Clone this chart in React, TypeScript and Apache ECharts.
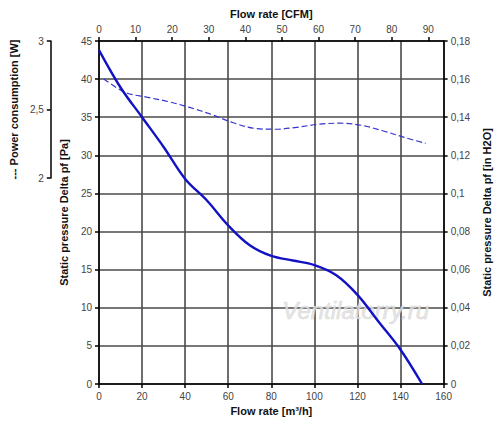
import React, { useEffect, useRef } from "react";
import * as echarts from "echarts";

const flowRates = [0, 10, 20, 30, 40, 50, 60, 70, 80, 90, 100, 110, 120, 130, 140, 150];
const pressurePa = [43.8, 38.9, 35.0, 31.1, 26.9, 24.1, 20.8, 18.2, 16.8, 16.2, 15.6, 14.3, 11.7, 8.1, 4.5, 0];
const powerW = [2.723, 2.625, 2.59, 2.558, 2.515, 2.465, 2.405, 2.363, 2.356, 2.37, 2.392, 2.4, 2.385, 2.345, 2.297, 2.253];

const CFM_PER_M3H = 1 / 1.699;
const FLOW_MAX = 160;
const PA_MAX = 45;
const INH2O_MAX = 0.18;

const FONT = "'Liberation Sans', Arial, sans-serif";
const lblColor = "#444";
const axisLineStyle = { color: "#000", width: 1.5 };
const gridLineStyle = { color: "#4a4a4a", width: 1.6 };
const nameStyle = { fontFamily: FONT, fontWeight: "bold" as const, fontSize: 11, color: "#111" };
const labelStyle = { fontFamily: FONT, fontSize: 10, color: lblColor, margin: 7 };

const comma = (v: number) => (v === 0 ? "0" : String(+v.toFixed(2)).replace(".", ","));

export default function App() {
  const ref = useRef<HTMLDivElement>(null);
  useEffect(() => {
    document.body.style.margin = "0";
    const chart = echarts.init(ref.current!, null, { renderer: "svg" });
    const solid = flowRates.map((f, i) => [f, pressurePa[i]]);
    const dashed = flowRates.map((f, i) => [f, powerW[i]]);
    chart.setOption({
      animation: false,
      backgroundColor: "#fff",
      grid: [
        { left: 99, top: 41, width: 348, height: 343 },
        { left: 99, top: 41, width: 348, height: 137 },
      ],
      xAxis: [
        {
          gridIndex: 0,
          type: "value",
          min: 0,
          max: FLOW_MAX,
          interval: 20,
          position: "bottom",
          name: "Flow rate [m³/h]",
          nameLocation: "middle",
          nameGap: 21,
          nameTextStyle: nameStyle,
          axisLine: { show: true, onZero: false, lineStyle: axisLineStyle },
          axisTick: { show: true, length: 4, lineStyle: axisLineStyle },
          axisLabel: labelStyle,
          splitLine: { show: true, lineStyle: gridLineStyle },
        },
        {
          gridIndex: 0,
          type: "value",
          min: 0,
          max: FLOW_MAX * CFM_PER_M3H,
          interval: 10,
          position: "top",
          name: "Flow rate [CFM]",
          nameLocation: "middle",
          nameGap: 22,
          nameTextStyle: nameStyle,
          axisLine: { show: true, onZero: false, lineStyle: axisLineStyle },
          axisTick: { show: true, length: 4, lineStyle: axisLineStyle },
          axisLabel: {
            ...labelStyle,
            showMaxLabel: false,
            formatter: (v: number) => (Math.abs(v % 10) < 1e-6 ? String(v) : ""),
          },
          splitLine: { show: false },
        },
        {
          gridIndex: 1,
          type: "value",
          min: 0,
          max: FLOW_MAX,
          show: false,
        },
      ],
      yAxis: [
        {
          gridIndex: 0,
          type: "value",
          min: 0,
          max: PA_MAX,
          interval: 5,
          position: "left",
          name: "Static pressure Delta pf [Pa]",
          nameLocation: "middle",
          nameGap: 21,
          nameTextStyle: nameStyle,
          axisLine: { show: true, onZero: false, lineStyle: axisLineStyle },
          axisTick: { show: true, length: 4, lineStyle: axisLineStyle },
          axisLabel: labelStyle,
          splitLine: { show: true, lineStyle: gridLineStyle },
        },
        {
          gridIndex: 0,
          type: "value",
          min: 0,
          max: INH2O_MAX,
          interval: 0.02,
          position: "right",
          name: "Static pressure Delta pf [in H2O]",
          nameLocation: "middle",
          nameGap: 36,
          nameTextStyle: nameStyle,
          axisLine: { show: true, onZero: false, lineStyle: axisLineStyle },
          axisTick: { show: true, length: 4, lineStyle: axisLineStyle },
          axisLabel: { ...labelStyle, formatter: comma },
          splitLine: { show: false },
        },
        {
          gridIndex: 1,
          type: "value",
          min: 2,
          max: 3,
          interval: 0.5,
          position: "left",
          offset: 53,
          name: "--- Power consumption [W]",
          nameLocation: "middle",
          nameGap: 25,
          nameTextStyle: nameStyle,
          axisLine: { show: true, onZero: false, lineStyle: axisLineStyle },
          axisTick: { show: true, length: 4, lineStyle: axisLineStyle },
          axisLabel: { ...labelStyle, formatter: comma },
          splitLine: { show: false },
        },
      ],
      graphic: [
        {
          type: "text",
          left: 282,
          top: 298,
          z: 1,
          style: {
            text: "Ventilatorry.ru",
            font: "italic 24px 'Liberation Sans', Arial, sans-serif",
            fill: "rgba(225,225,225,0.85)",
            stroke: "rgba(190,190,190,0.7)",
            lineWidth: 0.6,
          },
        },
      ],
      series: [
        {
          type: "line",
          xAxisIndex: 0,
          yAxisIndex: 0,
          data: solid,
          smooth: 0.35,
          symbol: "none",
          lineStyle: { color: "#1212c4", width: 2.4 },
          z: 5,
        },
        {
          type: "line",
          xAxisIndex: 2,
          yAxisIndex: 2,
          data: dashed,
          smooth: 0.35,
          symbol: "none",
          lineStyle: { color: "#3434d0", width: 1.2, type: [6, 3] },
          z: 4,
        },
      ],
    });
    return () => chart.dispose();
  }, []);
  return <div ref={ref} style={{ width: 500, height: 427 }} />;
}
